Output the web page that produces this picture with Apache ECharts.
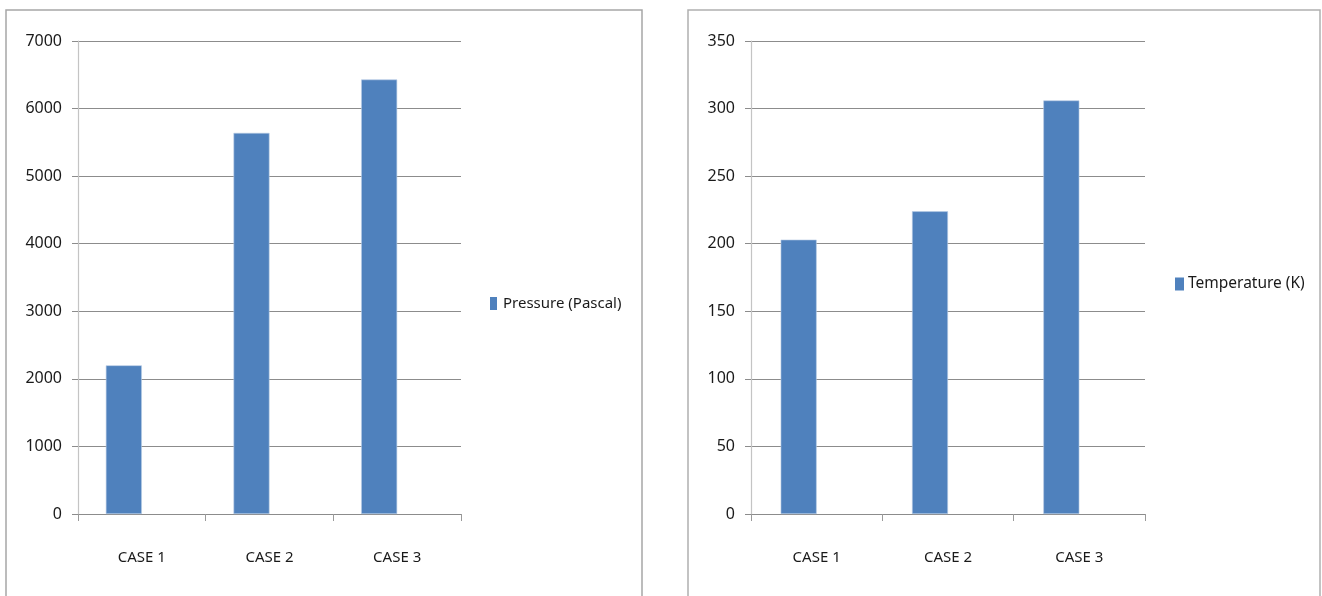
<!DOCTYPE html>
<html>
<head>
<meta charset="utf-8">
<script src="https://cdn.jsdelivr.net/npm/echarts@6/dist/echarts.min.js"></script>
<style>
  html, body { margin: 0; padding: 0; background: #fff; }
  #chart { width: 1322px; height: 596px; }
</style>
</head>
<body>
<div id="chart"></div>
<script>
// Categories shared by both panels
const categories = ['CASE 1', 'CASE 2', 'CASE 3'];

// Left panel: pressure
const pressureName = 'Pressure (Pascal)';
const pressureValues = [2200, 5640, 6430];
const pressureTicks = { min: 0, max: 7000, interval: 1000 };

// Right panel: temperature
const temperatureName = 'Temperature (K)';
const temperatureValues = [203, 224, 306];
const temperatureTicks = { min: 0, max: 350, interval: 50 };

const FONT = "'Noto Sans', 'Open Sans', sans-serif";
const BAR = '#4F81BD';
const GRID_LINE = '#8c8c8c';
const TEXT = '#1a1a1a';

function xAxisFor(gridIndex) {
  return {
    type: 'category',
    gridIndex,
    data: categories,
    boundaryGap: true,
    axisLine: { show: true, lineStyle: { color: GRID_LINE, width: 1.2 } },
    axisTick: { show: true, length: 7, lineStyle: { color: '#9a9a9a' } },
    axisLabel: { color: TEXT, fontFamily: FONT, fontSize: 15, margin: 36 }
  };
}

function yAxisFor(gridIndex, ticks) {
  return {
    type: 'value',
    gridIndex,
    min: ticks.min,
    max: ticks.max,
    interval: ticks.interval,
    axisLine: { show: true, lineStyle: { color: '#c4c4c4', width: 1.2 } },
    axisTick: { show: true, length: 6, lineStyle: { color: GRID_LINE } },
    splitLine: { show: true, lineStyle: { color: GRID_LINE, width: 1.2 } },
    axisLabel: {
      color: TEXT, fontFamily: FONT, fontSize: 16, margin: 16,
      formatter: (v) => String(v)
    }
  };
}

function barSeries(name, values, axisIndex) {
  return {
    name,
    type: 'bar',
    xAxisIndex: axisIndex,
    yAxisIndex: axisIndex,
    data: values,
    barWidth: 36,
    barGap: '0%',
    itemStyle: { color: BAR, borderColor: '#b9cde5', borderWidth: 0.6 }
  };
}

// Empty companion series keeps each bar on the left half of its category
function spacerSeries(axisIndex) {
  return {
    name: 'spacer' + axisIndex,
    type: 'bar',
    xAxisIndex: axisIndex,
    yAxisIndex: axisIndex,
    data: categories.map(() => null),
    barWidth: 36,
    barGap: '0%',
    silent: true
  };
}

const chart = echarts.init(document.getElementById('chart'), null, { renderer: 'canvas' });

chart.setOption({
  animation: false,
  backgroundColor: '#ffffff',
  grid: [
    { left: 78, top: 41, width: 383, height: 473 },
    { left: 751, top: 41, width: 394, height: 473 }
  ],
  xAxis: [xAxisFor(0), xAxisFor(1)],
  yAxis: [yAxisFor(0, pressureTicks), yAxisFor(1, temperatureTicks)],
  legend: [
    {
      data: [pressureName],
      left: 485, top: 291,
      itemWidth: 7, itemHeight: 13, itemGap: 0,
      icon: 'rect',
      itemStyle: { borderWidth: 0 },
      textStyle: { color: TEXT, fontFamily: FONT, fontSize: 15, padding: [0, 0, 0, 1] }
    },
    {
      data: [temperatureName],
      left: 1170, top: 271,
      itemWidth: 9, itemHeight: 13, itemGap: 0,
      icon: 'rect',
      itemStyle: { borderWidth: 0 },
      textStyle: { color: TEXT, fontFamily: FONT, fontSize: 15.5, padding: [0, 0, 0, -1] }
    }
  ],
  graphic: [
    {
      type: 'rect', silent: true, z: -1,
      shape: { x: 6, y: 10, width: 636, height: 620 },
      style: { fill: null, stroke: '#a6a6a6', lineWidth: 1.5 }
    },
    {
      type: 'rect', silent: true, z: -1,
      shape: { x: 688, y: 10, width: 632, height: 620 },
      style: { fill: null, stroke: '#b0b0b0', lineWidth: 1.5 }
    }
  ],
  series: [
    barSeries(pressureName, pressureValues, 0),
    spacerSeries(0),
    barSeries(temperatureName, temperatureValues, 1),
    spacerSeries(1)
  ]
});
</script>
</body>
</html>
